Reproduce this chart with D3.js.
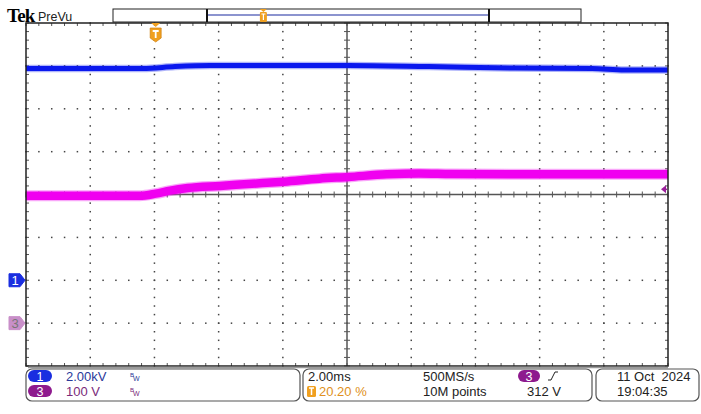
<!doctype html>
<html>
<head>
<meta charset="utf-8" />
<title>Tek PreVu</title>
<script src="https://cdn.jsdelivr.net/npm/d3@7"></script>
<style>
  html, body { margin: 0; padding: 0; background: #fff; overflow: hidden; }
  svg { display: block; }
  text { font-family: "Liberation Sans", "DejaVu Sans", sans-serif; }
</style>
</head>
<body>
<script>
// time in ms relative to trigger
const ch3Time = [-4.04, -1.1, -0.5, 0.0, 0.45, 1.0, 2.0, 3.0, 4.0, 5.1, 6.0, 7.2, 8.2, 9.2, 12.3, 15.96];
const ch3Volts = [297, 297, 297, 302, 309, 315, 320, 325, 330, 337, 341, 347, 349, 348, 347, 347];
const ch1Time = [-4.04, -0.4, 0.6, 1.7, 3.2, 6.0, 8.5, 11.2, 13.6, 14.6, 15.96];
const ch1kV = [9.88, 9.88, 9.97, 10.02, 10.02, 10.02, 9.97, 9.90, 9.88, 9.81, 9.81];

const timeRange = [-4.04, 15.96];   // 2.00 ms/div, trigger at 20.20 %
const ch1Scale = 2.0, ch1Offset = -2;  // kV/div, ground marker in divs
const ch3Scale = 100, ch3Offset = -3;  // V/div
const trigLevel = 312;

const statusRows = [
  { ch: "1", scale: "2.00kV", color: "#1a2ee0", text: "#2a3a9a" },
  { ch: "3", scale: "100 V", color: "#8e1a8e", text: "#7a2a7a" }
];

const W = 701, H = 414;
const pL = 26, pR = 668, pT = 23, pB = 366;

const svg = d3.select("body").append("svg").attr("width", W).attr("height", H);

const x = d3.scaleLinear().domain(timeRange).range([pL, pR]);
const xDiv = d3.scaleLinear().domain([0, 10]).range([pL, pR]);
const yDiv = d3.scaleLinear().domain([-4, 4]).range([pB, pT]);

// grid dots
const grid = svg.append("g").attr("fill", "#444");
const minorX = d3.range(0, 50.01, 1).map(i => i / 5);
const minorY = d3.range(0, 40.01, 1).map(i => i / 5 - 4);
d3.range(1, 10).filter(k => k !== 5).forEach(k => {
  minorY.forEach(v => grid.append("rect").attr("x", xDiv(k) - 0.7).attr("y", yDiv(v) - 0.7).attr("width", 1.5).attr("height", 1.5));
});
d3.range(-3, 4).filter(k => k !== 0).forEach(k => {
  minorX.forEach(v => grid.append("rect").attr("x", xDiv(v) - 0.7).attr("y", yDiv(k) - 0.7).attr("width", 1.5).attr("height", 1.5));
});

// centre crosshair with ticks
const axes = svg.append("g").attr("stroke", "#555");
axes.append("line").attr("x1", pL).attr("x2", pR).attr("y1", yDiv(0)).attr("y2", yDiv(0)).attr("stroke-width", 1.5);
axes.append("line").attr("y1", pT).attr("y2", pB).attr("x1", xDiv(5)).attr("x2", xDiv(5)).attr("stroke-width", 1.5);
minorX.forEach(v => axes.append("line").attr("x1", xDiv(v)).attr("x2", xDiv(v)).attr("y1", yDiv(0) - 3).attr("y2", yDiv(0) + 3).attr("stroke-width", 1));
minorY.forEach(v => axes.append("line").attr("y1", yDiv(v)).attr("y2", yDiv(v)).attr("x1", xDiv(5) - 3).attr("x2", xDiv(5) + 3).attr("stroke-width", 1));
// frame ticks
minorX.forEach(v => {
  axes.append("line").attr("x1", xDiv(v)).attr("x2", xDiv(v)).attr("y1", pT).attr("y2", pT + 3);
  axes.append("line").attr("x1", xDiv(v)).attr("x2", xDiv(v)).attr("y1", pB).attr("y2", pB - 3);
});
minorY.forEach(v => {
  axes.append("line").attr("y1", yDiv(v)).attr("y2", yDiv(v)).attr("x1", pL).attr("x2", pL + 3);
  axes.append("line").attr("y1", yDiv(v)).attr("y2", yDiv(v)).attr("x1", pR).attr("x2", pR - 3);
});

// traces
const line1 = d3.line().curve(d3.curveMonotoneX)
  .x((d, i) => x(ch1Time[i])).y(d => yDiv(d / ch1Scale + ch1Offset));
const line3 = d3.line().curve(d3.curveMonotoneX)
  .x((d, i) => x(ch3Time[i])).y(d => yDiv(d / ch3Scale + ch3Offset));

const traces = svg.append("g");
traces.append("path").attr("d", line1(ch1kV)).attr("fill", "none").attr("stroke", "#1a28f0").attr("stroke-opacity", 0.35).attr("stroke-width", 7.5);
traces.append("path").attr("d", line1(ch1kV)).attr("fill", "none").attr("stroke", "#0a18ee").attr("stroke-width", 5);
traces.append("path").attr("d", line3(ch3Volts)).attr("fill", "none").attr("stroke", "#f020f0").attr("stroke-opacity", 0.4).attr("stroke-width", 11);
traces.append("path").attr("d", line3(ch3Volts)).attr("fill", "none").attr("stroke", "#f000f0").attr("stroke-width", 8.5);

// frame
svg.append("rect").attr("x", pL).attr("y", pT).attr("width", pR - pL).attr("height", pB - pT)
  .attr("fill", "none").attr("stroke", "#222").attr("stroke-width", 1.5);
svg.append("line").attr("x1", pL + 2).attr("x2", pR).attr("y1", pB + 1.5).attr("y2", pB + 1.5).attr("stroke", "#999").attr("stroke-width", 1.5);

// trigger level arrow
const ty = yDiv(trigLevel / ch3Scale + ch3Offset);
svg.append("path").attr("d", `M${pR - 7},${ty} l5,-4 v8 z`).attr("fill", "#9b1f9b");
svg.append("line").attr("x1", pR - 4).attr("x2", pR - 1).attr("y1", ty).attr("y2", ty).attr("stroke", "#9b1f9b").attr("stroke-width", 1.5);

// channel ground markers
function marker(yv, fill, txtColor, label) {
  const y0 = yDiv(yv);
  svg.append("path").attr("d", `M9,${y0 - 6.5} h11 l5,6.5 l-5,6.5 h-11 z`).attr("fill", fill).attr("stroke", fill).attr("stroke-linejoin", "round");
  svg.append("text").attr("x", 15).attr("y", y0 + 5).attr("text-anchor", "middle").attr("font-size", 13).attr("fill", txtColor).text(label);
}
marker(ch1Offset, "#1a2ee0", "#fff", "1");
marker(ch3Offset, "#c98fc9", "#777", "3");

// trigger position marker
const tx = x(0);
function tIcon(cx, y0, h) {
  svg.append("path").attr("d", `M${cx - 5.5},${y0} h11 v${h - 4} l-5.5,4 l-5.5,-4 z`).attr("fill", "#f0a020").attr("stroke", "#d08010").attr("stroke-width", 0.7);
  svg.append("path").attr("d", `M${cx - 3},${y0 + 3} h6 M${cx},${y0 + 3} v${h - 7}`).attr("stroke", "#fff").attr("stroke-width", 1.8).attr("fill", "none");
}
svg.append("path").attr("d", `M${tx - 4.5},${pT} h9 l-4.5,4 z`).attr("fill", "#f0a020");
tIcon(tx, 28, 14);

// header
svg.append("text").attr("x", 7).attr("y", 22).style("font-family", "'Liberation Serif', serif").attr("font-weight", "bold").attr("font-size", 19).attr("letter-spacing", -0.8).text("Tek");
svg.append("text").attr("x", 38).attr("y", 20.5).attr("font-size", 12.5).attr("fill", "#222").text("PreVu");

// record view bar
const rec = d3.scaleLinear().domain([0, 1]).range([113, 581]);
svg.append("rect").attr("x", rec(0)).attr("y", 9).attr("width", rec(1) - rec(0)).attr("height", 13).attr("fill", "#fff").attr("stroke", "#222").attr("stroke-width", 1);
const vx0 = 207, vx1 = 489;
svg.append("line").attr("x1", vx0).attr("x2", vx1).attr("y1", 15).attr("y2", 15).attr("stroke", "#1a2aa0").attr("stroke-width", 1.2);
svg.append("line").attr("x1", vx0).attr("x2", vx0).attr("y1", 9).attr("y2", 22).attr("stroke", "#111").attr("stroke-width", 2);
svg.append("line").attr("x1", vx1).attr("x2", vx1).attr("y1", 9).attr("y2", 22).attr("stroke", "#111").attr("stroke-width", 2);
const rtx = vx0 + (vx1 - vx0) * 0.2;
svg.append("path").attr("d", `M${rtx - 3.5},9 h7 l-3.5,3 z`).attr("fill", "#f0a020");
svg.append("rect").attr("x", rtx - 3.5).attr("y", 12).attr("width", 7).attr("height", 10).attr("rx", 1).attr("fill", "#f0a020");
svg.append("path").attr("d", `M${rtx - 2},14 h4 M${rtx},14 v6`).attr("stroke", "#fff").attr("stroke-width", 1.2);

// status boxes
const boxes = [[26, 300], [303, 592], [596, 699]];
boxes.forEach(b => svg.append("rect").attr("x", b[0]).attr("y", 369).attr("width", b[1] - b[0]).attr("height", 32).attr("rx", 6)
  .attr("fill", "#fff").attr("stroke", "#555").attr("stroke-width", 1.2));

const rowY = [381, 396];
const fs = 13;
statusRows.forEach((r, i) => {
  const y0 = rowY[i];
  svg.append("rect").attr("x", 28).attr("y", y0 - 11).attr("width", 24).attr("height", 12).attr("rx", 6).attr("fill", r.color);
  svg.append("text").attr("x", 40).attr("y", y0).attr("text-anchor", "middle").attr("font-size", 12.5).attr("fill", "#fff").text(r.ch);
  svg.append("text").attr("x", 66).attr("y", y0).attr("font-size", fs).attr("fill", r.text).text(r.scale);
  svg.append("text").attr("x", 130).attr("y", y0 - 4).attr("font-size", 6).attr("fill", r.text).text("B");
  svg.append("text").attr("x", 133).attr("y", y0).attr("font-size", 7).attr("fill", r.text).text("W");
});

svg.append("text").attr("x", 308).attr("y", rowY[0]).attr("font-size", fs).attr("fill", "#222").text("2.00ms");
svg.append("rect").attr("x", 307).attr("y", rowY[1] - 10).attr("width", 9).attr("height", 11).attr("rx", 1.5).attr("fill", "#f0a020");
svg.append("path").attr("d", `M309,${rowY[1] - 8} h5 M311.5,${rowY[1] - 8} v7`).attr("stroke", "#fff").attr("stroke-width", 1.5);
svg.append("text").attr("x", 319).attr("y", rowY[1]).attr("font-size", fs).attr("fill", "#e09020").text("20.20 %");
svg.append("text").attr("x", 423).attr("y", rowY[0]).attr("font-size", fs).attr("fill", "#222").text("500MS/s");
svg.append("text").attr("x", 423).attr("y", rowY[1]).attr("font-size", fs).attr("fill", "#222").text("10M points");
svg.append("rect").attr("x", 518).attr("y", rowY[0] - 11).attr("width", 22).attr("height", 12).attr("rx", 6).attr("fill", "#8e1a8e");
svg.append("text").attr("x", 529).attr("y", rowY[0]).attr("text-anchor", "middle").attr("font-size", 12.5).attr("fill", "#fff").text("3");
svg.append("path").attr("d", `M548,${rowY[0] - 1} h3 l4,-8 h3`).attr("stroke", "#222").attr("stroke-width", 1).attr("fill", "none");
svg.append("text").attr("x", 527).attr("y", rowY[1]).attr("font-size", fs).attr("fill", "#222").text(trigLevel + " V");
svg.append("text").attr("x", 617).attr("y", rowY[0]).attr("font-size", fs).attr("fill", "#222").attr("xml:space", "preserve").text("11 Oct  2024");
svg.append("text").attr("x", 617).attr("y", rowY[1]).attr("font-size", fs).attr("fill", "#222").text("19:04:35");
</script>
</body>
</html>
